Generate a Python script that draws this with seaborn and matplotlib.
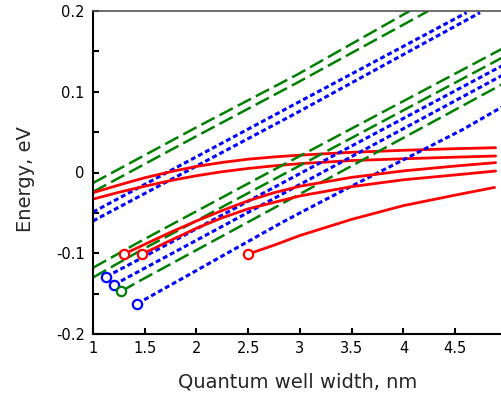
import matplotlib
matplotlib.use('Agg')
import matplotlib.pyplot as plt
import pandas as pd
import seaborn as sns

# Energy levels vs quantum well width
# upper group
g1_x = [1.0, 2.0, 2.97, 4.06]
g1_y = [-0.013, 0.056, 0.121, 0.200]
g2_x = [1.0, 2.0, 2.97, 4.24]
g2_y = [-0.024, 0.045, 0.111, 0.200]
b1_x = [1.0, 2.97, 4.61]
b1_y = [-0.049, 0.086, 0.198]
b2_x = [1.0, 2.97, 4.74]
b2_y = [-0.060, 0.074, 0.198]
r1_x = [1.0, 1.25, 1.5, 1.75, 2.0, 2.25, 2.5, 2.75, 3.0, 3.5, 4.0, 4.5, 4.89]
r1_y = [-0.025, -0.0155, -0.0065, 0.001, 0.0075, 0.0125, 0.0165, 0.0193, 0.0215, 0.025,
        0.0275, 0.0295, 0.0307]
r2_x = [1.0, 1.25, 1.5, 1.75, 2.0, 2.25, 2.5, 2.75, 3.0, 3.5, 4.0, 4.5, 4.89]
r2_y = [-0.033, -0.0245, -0.017, -0.010, -0.004, 0.0010, 0.005, 0.0083, 0.011, 0.0148,
        0.017, 0.019, 0.0204]

# lower group
g3_x = [1.0, 1.454, 2.61, 4.95]
g3_y = [-0.118, -0.0855, -0.006, 0.153]
g4_x = [1.0, 1.454, 4.95]
g4_y = [-0.130, -0.097, 0.142]
b3_x = [1.129, 1.454, 4.95]
b3_y = [-0.129, -0.107, 0.132]
b4_x = [1.203, 4.95]
b4_y = [-0.139, 0.120]
g5_x = [1.274, 1.454, 4.95]
g5_y = [-0.147, -0.134, 0.109]
b5_x = [1.428, 2.81, 3.0, 3.39, 4.57, 4.95]
b5_y = [-0.1625, -0.063, -0.050, -0.024, 0.053, 0.081]
r3_x = [1.30, 1.5, 1.75, 2.0, 2.25, 2.5, 2.75, 3.0, 3.5, 4.0, 4.5, 4.89]
r3_y = [-0.101, -0.089, -0.074, -0.060, -0.047, -0.035, -0.025, -0.017, -0.006, 0.002,
        0.008, 0.0122]
r4_x = [1.476, 1.75, 2.0, 2.25, 2.5, 2.75, 3.0, 3.5, 4.0, 4.5, 4.89]
r4_y = [-0.101, -0.084, -0.069, -0.056, -0.045, -0.037, -0.029, -0.0175, -0.009, -0.003, 0.0018]
r5_x = [2.50, 2.75, 3.0, 3.5, 4.0, 4.5, 4.88]
r5_y = [-0.101, -0.090, -0.078, -0.058, -0.041, -0.028, -0.0185]

# open circles at the start of the bound states
start_x = [1.30, 1.476, 2.495, 1.129, 1.203, 1.428, 1.274]
start_y = [-0.101, -0.101, -0.101, -0.129, -0.139, -0.1625, -0.147]
start_band = ['red', 'red', 'red', 'blue', 'blue', 'blue', 'green']

xticks = [1, 1.5, 2, 2.5, 3, 3.5, 4, 4.5]
xtick_labels = ['1', '1.5', '2', '2.5', '3', '3.5', '4', '4.5']
yticks = [-0.2, -0.1, 0, 0.1, 0.2]
ytick_labels = ['-0.2', '-0.1', '0', '0.1', '0.2']

curves = [
    ('g1', 'green', g1_x, g1_y), ('g2', 'green', g2_x, g2_y),
    ('b1', 'blue', b1_x, b1_y), ('b2', 'blue', b2_x, b2_y),
    ('r1', 'red', r1_x, r1_y), ('r2', 'red', r2_x, r2_y),
    ('g3', 'green', g3_x, g3_y), ('g4', 'green', g4_x, g4_y),
    ('b3', 'blue', b3_x, b3_y), ('b4', 'blue', b4_x, b4_y),
    ('g5', 'green', g5_x, g5_y), ('b5', 'blue', b5_x, b5_y),
    ('r3', 'red', r3_x, r3_y), ('r4', 'red', r4_x, r4_y),
    ('r5', 'red', r5_x, r5_y),
]

rows = []
for name, band, xs, ys in curves:
    for x, y in zip(xs, ys):
        rows.append({'curve': name, 'band': band, 'width': x, 'energy': y})
df = pd.DataFrame(rows)
starts = pd.DataFrame({'width': start_x, 'energy': start_y, 'band': start_band})

sns.set_style('ticks')
plt.rcParams['font.family'] = ['DejaVu Sans']

colors = {'red': '#ff0000', 'green': '#008000', 'blue': '#0000ff'}
styles = {
    'red': dict(linewidth=2.0, linestyle='-'),
    'green': dict(linewidth=1.8, linestyle=(0, (6, 2.2))),
    'blue': dict(linewidth=2.2, linestyle=(0, (1.6, 1.0))),
}

fig = plt.figure(figsize=(5.02, 3.94), dpi=100)
ax = fig.add_axes([93 / 502, 60 / 394, 409 / 502, 323 / 394])

for name, grp in df.groupby('curve', sort=False):
    band = grp['band'].iloc[0]
    sns.lineplot(data=grp, x='width', y='energy', ax=ax, color=colors[band],
                 sort=False, errorbar=None, legend=False, **styles[band])

for band, grp in starts.groupby('band'):
    sns.scatterplot(data=grp, x='width', y='energy', ax=ax, marker='o', s=45,
                    facecolor='white', edgecolor=colors[band], linewidth=1.6,
                    zorder=5, legend=False)

ax.set_xlim(1, 4.952)
ax.set_ylim(-0.2, 0.2)
ax.set_xticks(xticks)
ax.set_xticklabels(xtick_labels)
ax.set_yticks(yticks)
ax.set_yticklabels(ytick_labels)
ax.set_yticks([-0.15, -0.05, 0.05, 0.15], minor=True)
ax.tick_params(axis='both', which='both', direction='in', length=4, width=1.5,
               labelsize=10.5, colors='black', top=False, right=False)
ax.tick_params(axis='y', pad=6)
ax.tick_params(axis='x', pad=5)

for side in ['left', 'bottom']:
    ax.spines[side].set_linewidth(1.5)
    ax.spines[side].set_color('black')
ax.spines['top'].set_linewidth(1.2)
ax.spines['top'].set_color('#555555')
ax.spines['right'].set_visible(False)

ax.set_xlabel('Quantum well width, nm', fontsize=14)
ax.set_ylabel('Energy, eV', fontsize=14)
ax.xaxis.set_label_coords(0.5, -0.148)
ax.xaxis.label.set_va('center')
ax.yaxis.set_label_coords(-0.166, 0.48)
ax.yaxis.label.set_va('center')

plt.savefig('out.png', dpi=100)
